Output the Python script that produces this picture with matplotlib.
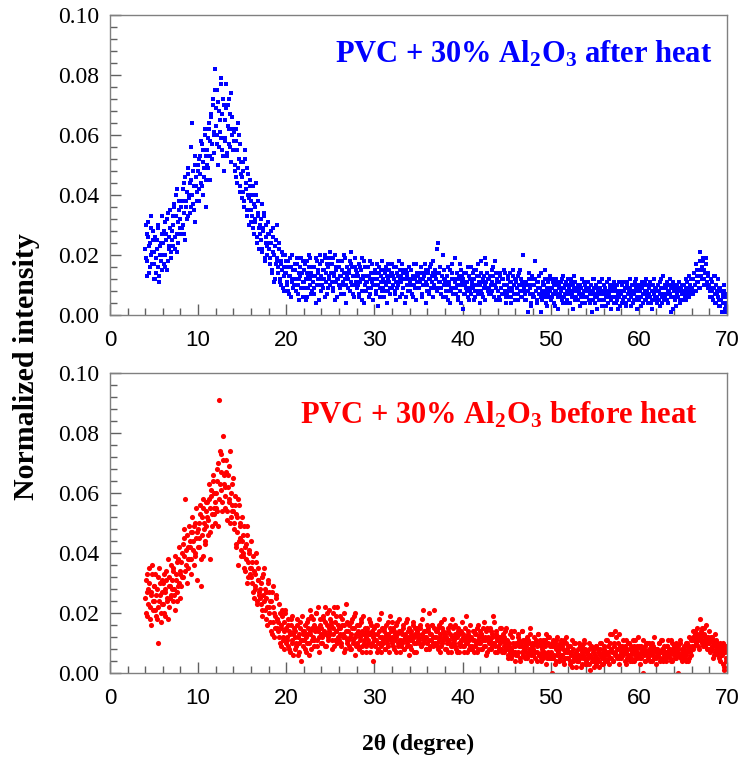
import numpy as np
import matplotlib
matplotlib.use("Agg")
import matplotlib.pyplot as plt
from matplotlib.ticker import MultipleLocator, FormatStrFormatter

# scan 4.0 .. 70.0 deg, step 0.05 ; intensities in units of 1e-3
# first pass: 4.00, 4.10, ... 70.00 ; second pass: 4.05, 4.15, ... 69.95
two_theta_a = np.round(4.0 + 0.1 * np.arange(661), 2)
two_theta_b = np.round(4.05 + 0.1 * np.arange(660), 2)

after_heat_a = """
22 30 18 26 14 24 33 20 17 28
21 12 19 25 16 29 11 23 18 27
24 17 31 20 27 15 34 22 29 19
28 33 23 36 26 40 21 31 35 29
32 27 38 30 44 25 36 41 33 47
39 34 45 64 37 43 50 31 46 41
48 38 53 44 57 40 51 46 60 36
55 49 62 45 58 66 52 70 60 82
63 57 75 50 68 61 79 55 72 48
65 58 77 53 70 62 56 74 60 66
55 61 48 58 44 64 52 41 57 47
46 51 38 55 42 35 49 40 30 45
38 33 43 27 36 31 40 24 34 29
30 25 37 21 28 33 18 26 23 31
22 27 17 24 14 29 20 12 25 18
19 14 24 11 17 21 9 16 13 20
14 10 18 7 13 16 11 20 9 15
12 8 17 10 14 5 13 19 9 11
15 9 12 18 6 13 20 10 14 8
11 16 7 13 19 10 14 5 17 12
13 18 9 15 20 11 7 16 12 19
10 14 17 8 13 20 11 15 6 12
16 9 13 18 11 7 14 19 10 13
12 15 8 17 21 10 13 6 16 11
9 13 17 7 11 15 5 12 18 10
13 8 11 16 6 12 9 17 10 14
10 14 7 12 3 16 9 11 15 8
12 6 15 10 13 8 17 11 7 14
9 13 16 8 11 5 14 10 18 12
11 7 14 9 15 12 6 13 10 16
8 12 15 10 6 13 9 17 11 14
13 9 11 16 7 12 10 14 4 15
10 15 8 12 17 11 6 14 9 13
12 22 9 14 11 16 7 13 20 10
12 6 10 8 16 11 4 9 14 7
9 12 19 7 10 5 13 8 15 11
2 10 14 7 11 8 16 5 12 9
7 11 9 15 6 10 13 8 17 11
10 18 7 12 9 19 5 11 14 8
12 7 10 15 8 13 6 18 9 11
8 11 5 13 9 7 12 10 14 6
10 6 13 8 11 4 9 15 7 12
7 11 9 5 14 8 12 6 10 20
9 5 11 8 1 12 7 10 4 13
6 10 18 8 11 5 9 13 7 1
8 11 6 10 15 4 9 7 12 8
5 9 12 7 10 3 8 11 6 9
10 6 8 12 4 9 7 11 5 8
7 9 4 11 6 10 8 13 5 9
9 5 8 10 6 12 4 7 11 8
6 8 11 5 9 7 10 1 8 12
4 7 10 6 9 5 11 8 3 7
8 5 9 6 11 4 7 10 5 8
6 9 4 8 10 5 7 11 6 3
7 10 5 8 6 9 4 11 7 5
9 6 8 4 10 7 5 12 6 8
5 8 10 6 9 4 7 11 5 8
7 4 9 6 10 5 8 12 6 9
8 6 10 5 7 9 4 13 7 6
6 9 5 8 10 7 1 9 6 11
8 5 10 7 9 6 11 4 8 7
7 10 6 9 5 11 8 7 10 12
9 12 7 14 10 8 15 11 13 9
21 15 12 18 10 14 19 11 13 9
10 6 12 8 5 9 13 7 4 8
6 3 9 5 1 7 4 8 1 6
4
"""

after_heat_b = """
19 27 13 31 23 16 29 21 25 12
17 26 14 22 30 13 20 24 15 33
20 28 16 25 32 18 26 23 35 21
25 30 37 22 33 27 42 24 38 32
36 29 42 34 27 46 38 32 49 40
44 36 56 40 48 35 53 43 38 50
42 52 47 58 43 55 49 62 45 53
50 59 64 53 67 57 72 61 54 75
69 60 71 56 65 77 59 67 53 70
59 69 54 63 72 57 67 51 62 55
58 50 62 46 55 49 60 43 51 39
41 48 36 52 44 33 47 39 43 31
35 40 29 37 32 44 26 33 38 22
27 32 22 29 34 19 24 30 20 27
24 19 28 15 21 26 11 23 17 30
16 22 12 18 10 15 20 8 14 18
11 16 8 13 19 6 12 15 10 17
15 10 19 7 12 16 9 14 6 18
11 17 5 14 9 16 12 19 7 13
16 9 13 4 18 12 15 10 20 8
10 15 12 19 6 14 17 9 13 21
17 11 19 9 14 5 16 12 18 10
13 18 7 15 10 20 12 4 16 14
9 14 18 11 16 7 13 19 10 15
14 10 6 16 12 19 8 13 4 16
11 16 9 13 18 7 14 11 5 12
15 8 12 17 10 14 6 13 18 9
8 14 11 16 4 12 15 9 13 17
14 10 12 7 16 9 13 11 6 15
13 17 9 12 4 15 10 14 8 12
11 15 7 13 17 10 12 5 14 9
9 12 16 6 14 10 13 17 11 8
14 7 12 16 9 13 18 10 15 12
8 14 24 11 16 9 13 6 15 12
11 8 13 5 10 15 8 12 17 9
7 11 9 14 6 12 10 17 4 13
12 7 10 14 9 11 6 13 8 16
10 14 5 12 8 15 10 7 13 4
14 8 11 6 13 10 17 9 12 7
9 13 7 11 16 6 10 14 5 12
11 6 14 9 12 7 10 15 8 4
7 12 9 14 6 11 8 13 10 5
12 9 7 13 10 15 6 11 8 10
7 11 5 10 8 14 9 3 12 7
10 6 12 8 4 11 7 9 14 6
5 10 7 12 8 3 11 6 9 13
9 6 11 4 8 12 7 10 2 9
7 11 5 9 13 6 10 4 8 12
10 4 8 12 7 2 9 11 6 8
5 10 7 3 9 12 6 8 10 4
9 6 11 8 4 10 7 12 5 9
6 10 2 8 11 7 9 5 12 8
10 7 3 11 8 6 12 9 2 10
8 11 6 9 4 10 2 8 11 7
4 8 11 6 9 3 10 7 8 12
7 3 10 8 5 11 9 2 8 10
9 6 3 11 7 10 8 5 12 6
10 7 11 4 8 2 10 7 9 5
4 10 8 11 3 12 6 9 5 10
9 7 11 4 8 12 6 10 2 8
6 9 3 10 8 11 5 9 7 10
10 5 8 12 7 9 13 6 10 8
12 8 14 10 17 13 11 15 9 18
13 16 19 12 15 10 17 11 14 9
8 12 6 11 9 13 4 10 7 12
5 9 3 8 1 6 10 2 7 3
"""

before_heat_a = """
25 31 19 28 35 22 16 27 33 24
29 21 26 18 32 10 24 30 20 27
23 33 28 19 31 25 38 22 29 26
31 24 35 28 21 33 27 38 30 25
34 29 40 32 45 58 36 30 42 35
38 44 33 47 41 36 50 39 45 31
48 42 53 29 46 55 39 50 44 57
52 46 58 38 55 61 49 64 53 57
60 54 68 49 91 63 73 57 79 66
62 55 71 51 66 58 74 52 63 56
54 48 59 43 52 36 56 45 50 41
44 39 49 34 43 30 46 37 41 33
35 30 39 25 33 28 37 23 31 27
28 23 32 19 26 35 21 25 16 30
22 27 17 24 13 29 20 15 25 18
18 14 23 10 16 21 12 17 8 20
15 11 18 8 13 16 10 19 6 14
12 9 16 6 13 10 17 4 11 14
14 8 12 17 10 15 6 13 19 11
12 16 9 14 20 11 15 7 18 13
15 10 18 13 22 9 16 12 21 14
13 17 8 15 22 11 19 14 10 16
11 15 9 18 13 7 16 12 23 10
14 9 12 17 8 15 11 19 6 13
10 14 16 8 12 18 9 13 11 15
12 7 15 10 13 17 9 14 4 11
13 9 11 16 8 14 10 20 7 12
10 15 8 13 11 17 9 12 19 14
12 9 14 11 16 7 13 10 18 11
9 13 11 15 8 12 17 10 14 6
11 14 8 12 16 10 13 7 15 11
13 10 15 9 12 21 11 14 8 12
10 14 8 13 11 16 9 12 15 10
12 9 15 11 13 7 17 10 14 12
8 12 10 15 7 11 13 9 18 10
11 9 13 8 12 15 7 10 14 11
9 12 7 11 19 10 13 8 12 9
12 8 11 14 9 13 7 11 16 10
10 13 8 11 17 9 12 6 15 11
8 11 14 9 12 19 10 7 13 11
11 8 12 10 15 7 11 9 14 8
8 11 5 10 7 14 6 10 9 4
7 10 6 12 9 5 10 14 7 11
9 5 9 12 6 10 13 7 4 9
6 10 7 11 4 9 13 6 10 5
8 5 10 7 11 3 6 12 5 9
5 9 0 11 6 10 4 12 7 8
9 5 11 6 10 3 7 12 5 8
5 9 3 7 11 4 6 10 5 2
6 4 10 5 8 3 9 6 11 5
4 7 5 10 3 6 9 4 8 2
6 3 9 5 8 4 10 6 3 7
5 9 4 7 11 6 3 13 5 8
7 4 10 6 12 5 8 3 13 6
5 9 6 8 4 11 7 5 10 6
8 5 7 11 4 9 6 8 5 12
6 3 9 5 7 0 8 4 10 6
7 5 10 6 8 4 9 12 5 7
5 8 6 10 4 7 11 5 8 6
7 4 9 6 8 5 11 7 4 8
6 9 5 7 0 8 6 10 5 7
8 5 9 6 10 7 4 12 8 6
9 12 8 11 14 10 13 9 12 11
18 12 15 9 13 11 16 10 12 8
10 7 12 8 11 6 9 13 7 10
8 5 10 6 9 3 7 1 8 4
5
"""

before_heat_b = """
20 27 33 23 30 18 26 36 21 29
24 33 19 28 22 35 26 17 31 23
30 20 27 34 24 18 29 32 25 36
28 34 26 39 31 24 37 29 42 33
37 32 43 39 48 34 41 46 38 49
42 47 38 52 44 49 40 55 47 42
50 45 56 38 52 58 48 43 54 49
57 51 63 47 59 53 66 55 60 50
55 64 70 58 74 61 67 54 71 63
59 67 54 62 57 69 50 60 54 65
50 56 42 53 47 58 44 49 39 52
40 46 35 42 38 49 32 40 35 44
32 37 27 34 29 40 24 31 35 26
25 30 21 33 24 28 18 27 22 31
20 24 14 27 17 22 12 19 26 15
17 12 20 9 15 19 11 14 21 10
12 16 9 14 7 18 11 13 15 8
14 10 18 12 7 15 11 19 9 13
11 16 7 13 18 10 14 21 8 15
18 11 15 20 9 14 22 12 16 10
12 19 14 9 17 13 20 11 15 18
16 11 20 13 9 17 14 22 12 15
13 19 10 16 12 20 8 14 17 11
11 16 8 13 18 10 15 12 20 9
16 9 13 11 17 7 14 19 10 13
9 14 11 18 7 13 16 10 12 15
11 16 7 13 10 18 12 9 15 11
14 8 12 16 10 13 7 15 11 17
10 15 8 13 12 17 9 14 11 7
14 10 16 8 13 11 18 9 12 15
9 13 11 17 7 12 15 10 14 12
11 16 9 13 18 10 14 12 8 16
15 11 20 9 13 16 10 21 12 14
10 14 8 16 12 9 15 11 18 13
13 8 11 14 10 16 7 12 9 15
10 16 12 7 14 10 13 9 11 17
13 9 15 10 12 7 14 11 16 8
9 14 11 7 13 10 15 8 12 14
13 8 12 15 9 11 14 7 12 10
11 15 8 13 10 17 9 12 14 7
9 12 15 8 11 13 7 12 10 15
10 6 9 13 5 8 12 7 14 9
6 10 13 7 11 4 9 14 6 8
11 7 10 5 11 8 15 6 10 7
8 12 5 10 7 13 6 11 4 9
7 11 6 9 13 5 10 7 12 6
7 10 5 9 3 8 11 6 9 4
10 6 9 4 8 11 5 10 7 9
7 4 9 6 2 8 5 10 7 4
4 8 6 9 2 7 5 10 3 8
7 3 6 8 1 9 5 7 4 8
5 9 4 7 2 8 6 10 5 3
8 6 11 4 9 7 5 10 8 13
4 9 7 14 6 8 10 5 9 7
8 6 11 7 9 3 8 6 10 4
6 9 4 8 7 11 5 9 7 6
9 5 8 7 11 6 4 9 7 10
6 8 4 9 7 10 6 5 8 3
8 6 10 7 5 11 8 4 9 7
5 9 7 11 6 8 4 10 7 9
8 5 10 7 9 6 11 5 8 4
6 9 7 4 10 8 5 9 7 11
11 14 9 13 10 12 15 11 8 13
14 10 13 11 15 9 12 8 11 14
8 11 9 12 5 10 7 11 8 6
7 9 4 8 6 10 2 7 5 9
"""


def parse(s):
    return np.array(s.split(), dtype=float) / 1000


two_theta = np.concatenate([two_theta_a, two_theta_b])
y_after = np.concatenate([parse(after_heat_a), parse(after_heat_b)])
y_before = np.concatenate([parse(before_heat_a), parse(before_heat_b)])

labels = [r"PVC + 30% Al$_2$O$_3$ after heat", r"PVC + 30% Al$_2$O$_3$ before heat"]

plt.rcParams["mathtext.fontset"] = "custom"
plt.rcParams["mathtext.rm"] = "Liberation Serif:bold"
plt.rcParams["mathtext.bf"] = "Liberation Serif:bold"
plt.rcParams["mathtext.default"] = "bf"

fig = plt.figure(figsize=(7.42, 7.6), dpi=100)
ax1 = fig.add_axes([0.1482, 0.5855, 0.8315, 0.3947])
ax2 = fig.add_axes([0.1482, 0.1145, 0.8315, 0.3947])

ax1.plot(two_theta, y_after, "s", color="#0000ff", ms=3.2, mew=0)
ax2.plot(two_theta, y_before, "o", color="#ff0000", ms=3.7, mew=0)

ax1.text(0.977, 0.843, labels[0], transform=ax1.transAxes, ha="right", va="baseline",
         color="#0000ff", fontsize=22, family="Liberation Serif", weight="bold")
ax2.text(0.953, 0.833, labels[1], transform=ax2.transAxes, ha="right", va="baseline",
         color="#ff0000", fontsize=22, family="Liberation Serif", weight="bold")

for ax in (ax1, ax2):
    ax.set_xlim(0, 70)
    ax.set_ylim(0, 0.1)
    ax.xaxis.set_major_locator(MultipleLocator(10))
    ax.xaxis.set_minor_locator(MultipleLocator(2))
    ax.yaxis.set_major_locator(MultipleLocator(0.02))
    ax.yaxis.set_minor_locator(MultipleLocator(0.004))
    ax.yaxis.set_major_formatter(FormatStrFormatter("%.2f"))
    ax.tick_params(which="both", direction="in", color="#606060", width=1,
                   top=False, right=False)
    ax.tick_params(which="major", length=8)
    ax.tick_params(which="minor", length=5)
    ax.tick_params(axis="x", pad=11, labelsize=16)
    ax.tick_params(axis="y", pad=8, labelsize=17)
    for lab in ax.get_xticklabels():
        lab.set_fontfamily("Liberation Sans")
    for lab in ax.get_yticklabels():
        lab.set_fontfamily("Liberation Serif")
    for sp in ax.spines.values():
        sp.set_color("#808080")
        sp.set_linewidth(1)

fig.text(0.036, 0.518, "Normalized intensity", rotation=90, ha="center", va="center",
         fontsize=21.5, family="Liberation Serif", weight="bold")
fig.text(0.564, 0.021, "2\u03b8 (degree)", ha="center", va="center",
         fontsize=17, family="Liberation Serif", weight="bold")

fig.savefig("out.png", dpi=100)
